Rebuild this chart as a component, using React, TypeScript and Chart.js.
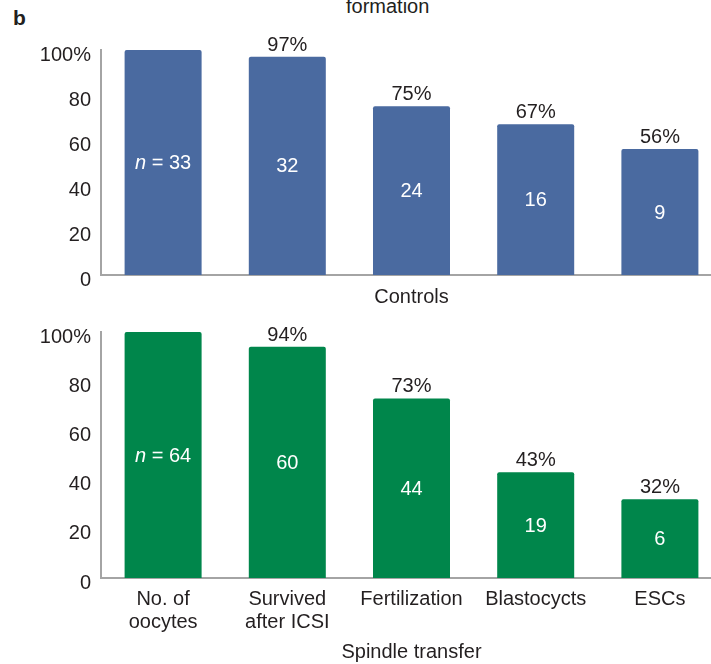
import React, { useEffect, useRef } from "react";
import { Chart, registerables } from "chart.js";

Chart.register(...registerables);

// ---- data ----
const categories: (string | string[])[] = [
  ["No. of", "oocytes"],
  ["Survived", "after ICSI"],
  "Fertilization",
  "Blastocycts",
  "ESCs",
];
const controlPercent = [100, 97, 75, 67, 56];
const controlCounts = [33, 32, 24, 16, 9];
const spindlePercent = [100, 94, 73, 43, 32];
const spindleCounts = [64, 60, 44, 19, 6];
const yTickStep = 20;
const yMax = 100;

const FONT = '"Liberation Sans", Arial, Helvetica, sans-serif';
const TEXT = "#231f20";
const AXIS = "#a4a4a4";

function makeLabelPlugin(counts: number[]) {
  return {
    id: "barLabels",
    afterDatasetsDraw(chart: any) {
      const ctx = chart.ctx;
      const meta = chart.getDatasetMeta(0);
      const data = chart.data.datasets[0].data as number[];
      meta.data.forEach((bar: any, i: number) => {
        const { x, y, base } = bar.getProps(["x", "y", "base"], true);
        ctx.save();
        const normal = `20px ${FONT}`;
        const italic = `italic 20px ${FONT}`;
        if (i > 0) {
          ctx.font = normal;
          ctx.fillStyle = TEXT;
          ctx.textAlign = "center";
          ctx.textBaseline = "alphabetic";
          ctx.fillText(`${data[i]}%`, x, y - 6);
        }
        const cy = (y + base) / 2 + 1;
        ctx.fillStyle = "#ffffff";
        ctx.textBaseline = "middle";
        if (i === 0) {
          ctx.font = italic;
          const w1 = ctx.measureText("n").width;
          ctx.font = normal;
          const rest = ` = ${counts[i]}`;
          const w2 = ctx.measureText(rest).width;
          const start = x - (w1 + w2) / 2;
          ctx.textAlign = "left";
          ctx.font = italic;
          ctx.fillText("n", start, cy);
          ctx.font = normal;
          ctx.fillText(rest, start + w1, cy);
        } else {
          ctx.font = normal;
          ctx.textAlign = "center";
          ctx.fillText(String(counts[i]), x, cy);
        }
        ctx.restore();
      });
    },
  };
}

type PanelProps = {
  percents: number[];
  counts: number[];
  color: string;
  title: string;
  showCategoryLabels: boolean;
  top: number;
  height: number;
  areaTop: number;
  areaBottom: number;
};

function Panel(props: PanelProps) {
  const ref = useRef<HTMLCanvasElement | null>(null);
  useEffect(() => {
    const canvas = ref.current;
    if (!canvas) return;
    const xHeight = props.height - props.areaBottom;
    const chart = new Chart(canvas, {
      type: "bar",
      data: {
        labels: categories as any,
        datasets: [
          {
            data: props.percents,
            backgroundColor: props.color,
            borderRadius: 2,
            barPercentage: 0.62,
            categoryPercentage: 1,
          },
        ],
      },
      options: {
        responsive: false,
        animation: false,
        devicePixelRatio: 1,
        layout: { padding: { top: props.areaTop, right: 0, bottom: 0, left: 0 } },
        plugins: { legend: { display: false }, tooltip: { enabled: false } },
        scales: {
          x: {
            grid: { display: false, drawTicks: false },
            border: { display: true, color: AXIS, width: 2 },
            ticks: {
              display: props.showCategoryLabels,
              autoSkip: false,
              maxRotation: 0,
              minRotation: 0,
              padding: 10,
              color: TEXT,
              font: { family: FONT, size: 20, lineHeight: 1.15 },
            },
            title: {
              display: true,
              text: props.title,
              color: TEXT,
              font: { family: FONT, size: 20, lineHeight: 1.2 },
              padding: { top: 0, bottom: 0 },
            },
            afterFit: (s: any) => {
              s.height = xHeight;
            },
          },
          y: {
            min: 0,
            max: yMax,
            grid: { display: false, drawTicks: false },
            border: { display: true, color: AXIS, width: 2 },
            ticks: {
              stepSize: yTickStep,
              padding: 10,
              labelOffset: 5,
              color: TEXT,
              font: { family: FONT, size: 20 },
              callback: (v: any) => (Number(v) === yMax ? `${v}%` : String(v)),
            },
            afterFit: (s: any) => {
              s.width = 101;
            },
          },
        },
      } as any,
      plugins: [makeLabelPlugin(props.counts)],
    });
    return () => chart.destroy();
  }, []);
  return (
    <canvas
      ref={ref}
      width={722}
      height={props.height}
      style={{ position: "absolute", left: 0, top: props.top, display: "block" }}
    />
  );
}

export default function App() {
  return (
    <div
      style={{
        position: "absolute",
        left: 0,
        top: 0,
        width: 711,
        height: 664,
        overflow: "hidden",
        background: "#ffffff",
        fontFamily: FONT,
        color: TEXT,
      }}
    >
      <div
        style={{
          position: "absolute",
          left: 346,
          top: -4,
          fontSize: 20,
          lineHeight: "20px",
          whiteSpace: "nowrap",
        }}
      >
        formation
      </div>
      <div
        style={{
          position: "absolute",
          left: 13,
          top: 8,
          fontSize: 21,
          lineHeight: "20px",
          fontWeight: "bold",
        }}
      >
        b
      </div>
      <Panel
        percents={controlPercent}
        counts={controlCounts}
        color="#4a6aa0"
        title="Controls"
        showCategoryLabels={false}
        top={28}
        height={281}
        areaTop={22}
        areaBottom={247}
      />
      <Panel
        percents={spindlePercent}
        counts={spindleCounts}
        color="#00864b"
        title="Spindle transfer"
        showCategoryLabels={true}
        top={310}
        height={354}
        areaTop={19}
        areaBottom={268}
      />
    </div>
  );
}
